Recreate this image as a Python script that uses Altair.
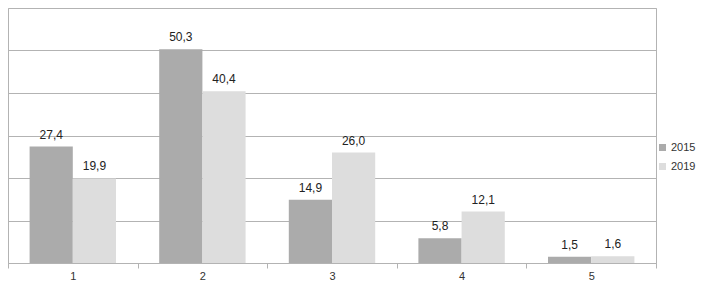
import altair as alt
import pandas as pd

categories = ["1", "2", "3", "4", "5"]
years = ["2015", "2019"]
values_2015 = [27.4, 50.3, 14.9, 5.8, 1.5]
values_2019 = [19.9, 40.4, 26.0, 12.1, 1.6]
colors = ["#ababab", "#dddddd"]
grid_values = [0, 10, 20, 30, 40, 50, 60]

rows = []
for c, a, b in zip(categories, values_2015, values_2019):
    rows.append({"cat": c, "year": years[0], "value": a})
    rows.append({"cat": c, "year": years[1], "value": b})
df = pd.DataFrame(rows)
df["label"] = df["value"].map(lambda v: f"{v:.1f}".replace(".", ","))

x = alt.X(
    "cat:N", sort=categories,
    scale=alt.Scale(paddingInner=0, paddingOuter=0),
    axis=alt.Axis(title=None, labelAngle=0, tickBand="extent", tickSize=5,
                  tickColor="#b3b3b3", domainColor="#b3b3b3", labelFontSize=11,
                  labelColor="#333333", labelPadding=2),
)
xo = alt.XOffset("year:N", sort=years, scale=alt.Scale(paddingOuter=0.5, paddingInner=0))
y = alt.Y(
    "value:Q", scale=alt.Scale(domain=[0, 60], nice=False),
    axis=alt.Axis(title=None, labels=False, ticks=False, domain=False,
                  values=grid_values, gridColor="#b3b3b3"),
)
color = alt.Color(
    "year:N", sort=years,
    scale=alt.Scale(domain=years, range=colors),
    legend=alt.Legend(title=None, orient="none", legendX=649, legendY=134,
                      symbolType="square", symbolSize=49, symbolStrokeWidth=0,
                      labelFontSize=11, labelColor="#333333", labelOffset=3,
                      rowPadding=7, padding=0),
)

bars = alt.Chart(df).mark_bar().encode(x=x, xOffset=xo, y=y, color=color)
text = alt.Chart(df).mark_text(baseline="bottom", dy=-5, fontSize=12, color="#222222").encode(
    x=x, xOffset=xo, y=y, text="label:N"
)

chart = (
    (bars + text)
    .properties(width=648, height=255,
                autosize=alt.AutoSizeParams(type="none"),
                padding={"left": 0, "top": 0, "right": 45, "bottom": 19})
    .configure(font="Liberation Sans")
    .configure_view(stroke="#b3b3b3")
)
chart.save("out.html", embed_options={"renderer": "svg", "actions": False})
